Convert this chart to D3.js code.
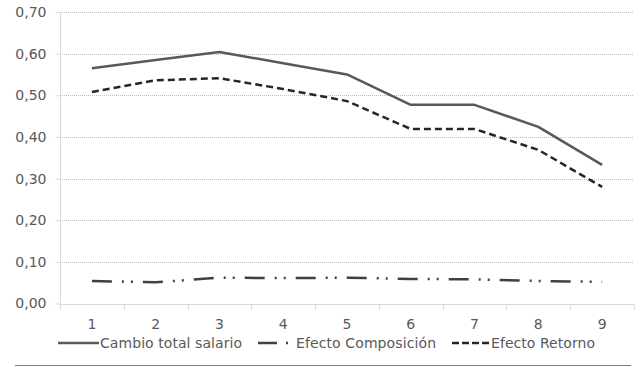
<!DOCTYPE html>
<html><head><meta charset="utf-8">
<script src="https://cdn.jsdelivr.net/npm/d3@7"></script>
<style>body{margin:0;background:#fff}svg{display:block}text{font-family:"DejaVu Sans",sans-serif;fill:#595959}</style>
</head><body><svg id="c" width="642" height="367"></svg>
<script>
const categories = ["1","2","3","4","5","6","7","8","9"];
const cambioTotal = [0.565,0.585,0.604,0.577,0.550,0.477,0.477,0.424,0.333];
const efectoComposicion = [0.054,0.051,0.062,0.061,0.062,0.059,0.058,0.054,0.052];
const efectoRetorno = [0.508,0.536,0.541,0.515,0.486,0.419,0.419,0.369,0.280];
const yTicks = [0,0.1,0.2,0.3,0.4,0.5,0.6,0.7];
const seriesNames = ["Cambio total salario","Efecto Composición","Efecto Retorno"];

const svg = d3.select("#c");
const L=60, R=634, T=12, B=303.5;
const x = d3.scaleBand().domain(categories).range([L,R]);
const y = d3.scaleLinear().domain([0,0.7]).range([B,T]);
const fmt = v => d3.format(".2f")(v).replace(".",",");

// gridlines
svg.append("g").selectAll("line").data(yTicks.filter(d=>d>0)).join("line")
  .attr("x1",L).attr("x2",R).attr("y1",d=>Math.round(y(d))+0.5).attr("y2",d=>Math.round(y(d))+0.5)
  .attr("stroke","#bdbdbd").attr("stroke-dasharray","1,1");
// y axis
const ya = svg.append("g").attr("transform",`translate(${L+0.5},0)`)
  .call(d3.axisLeft(y).tickValues(yTicks).tickFormat(fmt).tickSize(5).tickPadding(9));
ya.select(".domain").attr("stroke","#d9d9d9").attr("d",`M0,${T}V${B}`);
ya.selectAll(".tick line").attr("stroke","#d9d9d9");
ya.selectAll(".tick text").attr("font-size","14px").attr("fill","#595959").attr("font-family","DejaVu Sans");
// x axis
const xa = svg.append("g").attr("transform",`translate(0,${Math.round(B)+0.5})`);
xa.append("line").attr("x1",L).attr("x2",R).attr("stroke","#d9d9d9");
const bounds = d3.range(categories.length+1).map(i=>L+i*x.step());
xa.selectAll(".tk").data(bounds).join("line").attr("class","tk")
  .attr("x1",d=>Math.round(d)+0.5).attr("x2",d=>Math.round(d)+0.5).attr("y1",0).attr("y2",5).attr("stroke","#d9d9d9");
xa.selectAll("text").data(categories).join("text")
  .attr("x",d=>x(d)+x.bandwidth()/2).attr("y",24).attr("text-anchor","middle")
  .attr("font-size","14px").text(d=>d);

const line = d3.line().x((d,i)=>x(categories[i])+x.bandwidth()/2).y(d=>y(d));
const styles = [
  {data:cambioTotal,color:"#595959",w:2.5,dash:null},
  {data:efectoComposicion,color:"#404040",w:2.5,dash:"20,10,2,7,2,10"},
  {data:efectoRetorno,color:"#262626",w:2.5,dash:"7,4"}
];
styles.forEach(s=>{
  svg.append("path").datum(s.data).attr("d",line).attr("fill","none")
    .attr("stroke",s.color).attr("stroke-width",s.w).attr("stroke-dasharray",s.dash)
    .attr("stroke-linejoin","round");
});

// legend
const lg = svg.append("g");
const legPos = [{lx:58,lw:41,tx:100,tw:142},{lx:258,lw:31,tx:296,tw:140},{lx:452,lw:37,tx:491,tw:104}];
const legDash = [null,"19,9,2,100","7,3"];
legPos.forEach((p,i)=>{
  lg.append("line").attr("x1",p.lx).attr("x2",p.lx+p.lw).attr("y1",343).attr("y2",343)
    .attr("stroke",styles[i].color).attr("stroke-width",2.5).attr("stroke-dasharray",legDash[i]);
  lg.append("text").attr("x",p.tx).attr("y",348).attr("font-size","14px")
    .attr("textLength",p.tw).attr("lengthAdjust","spacing").text(seriesNames[i]);
});
svg.append("line").attr("x1",15).attr("x2",631).attr("y1",365.5).attr("y2",365.5).attr("stroke","#7f7f7f");
</script></body></html>
